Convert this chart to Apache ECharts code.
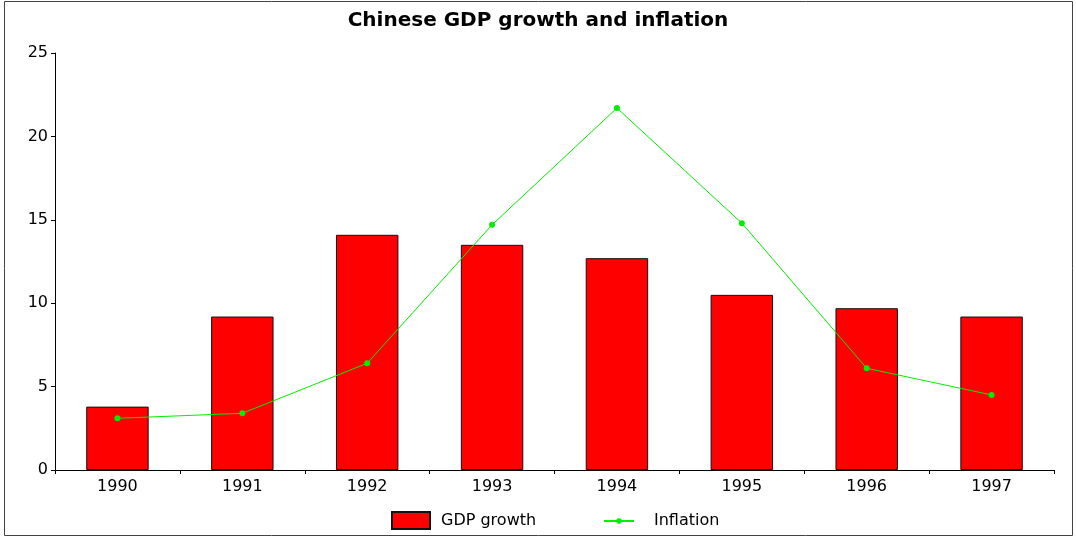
<!DOCTYPE html>
<html>
<head>
<meta charset="utf-8">
<script src="https://cdn.jsdelivr.net/npm/echarts@6/dist/echarts.min.js"></script>
<style>
  html, body { margin: 0; padding: 0; background: #fff; }
  #chart { width: 1076px; height: 538px; }
</style>
</head>
<body>
<div id="chart"></div>
<script>
// Annual figures, percent
const years = ['1990', '1991', '1992', '1993', '1994', '1995', '1996', '1997'];
const gdpGrowth = [3.8, 9.2, 14.1, 13.5, 12.7, 10.5, 9.7, 9.2];
const inflation = [3.1, 3.4, 6.4, 14.7, 21.7, 14.8, 6.1, 4.5];
const yTicks = { min: 0, max: 25, step: 5 };

const FONT = '"DejaVu Sans", Verdana, sans-serif';

const chart = echarts.init(document.getElementById('chart'), null, { renderer: 'canvas' });

chart.setOption({
  backgroundColor: '#fff',
  animation: false,
  title: {
    text: 'Chinese GDP growth and inflation',
    left: 'center',
    top: 6,
    textStyle: { fontFamily: FONT, fontSize: 20, fontWeight: 'bold', color: '#000' }
  },
  graphic: [{
    type: 'rect',
    shape: { x: 4.5, y: 1.5, width: 1068, height: 534 },
    style: { fill: null, stroke: '#444', lineWidth: 1 },
    silent: true
  }],
  legend: [
    {
      left: 391,
      top: 511,
      padding: 0,
      itemWidth: 38,
      itemHeight: 17,
      textStyle: { fontFamily: FONT, fontSize: 16, color: '#000', padding: [0, 0, 0, 6] },
      data: [{ name: 'GDP growth', icon: 'rect' }]
    },
    {
      left: 603,
      top: 513,
      padding: 0,
      itemWidth: 30,
      itemHeight: 7,
      textStyle: { fontFamily: FONT, fontSize: 16, color: '#000', padding: [0, 0, 0, 15] },
      data: [{ name: 'Inflation' }]
    }
  ],
  grid: { left: 55, right: 22, top: 53, bottom: 68 },
  xAxis: {
    type: 'category',
    data: years,
    boundaryGap: true,
    axisLine: { lineStyle: { color: '#000', width: 1 } },
    axisTick: { show: true, length: 4, lineStyle: { color: '#000' } },
    axisLabel: { fontFamily: FONT, fontSize: 16, color: '#000', margin: 9 },
    splitLine: { show: false }
  },
  yAxis: {
    type: 'value',
    min: yTicks.min,
    max: yTicks.max,
    interval: yTicks.step,
    axisLine: { show: true, lineStyle: { color: '#000', width: 1 } },
    axisTick: { show: true, length: 4, lineStyle: { color: '#000' } },
    axisLabel: { fontFamily: FONT, fontSize: 16, color: '#000', margin: 7 },
    splitLine: { show: false }
  },
  series: [
    {
      name: 'GDP growth',
      type: 'bar',
      data: gdpGrowth,
      barWidth: '50%',
      itemStyle: { color: '#ff0000', borderColor: '#111', borderWidth: 1 }
    },
    {
      name: 'Inflation',
      type: 'line',
      data: inflation,
      symbol: 'circle',
      symbolSize: 6,
      lineStyle: { color: '#00ee00', width: 1 },
      itemStyle: { color: '#00ee00' }
    }
  ]
});
</script>
</body>
</html>
